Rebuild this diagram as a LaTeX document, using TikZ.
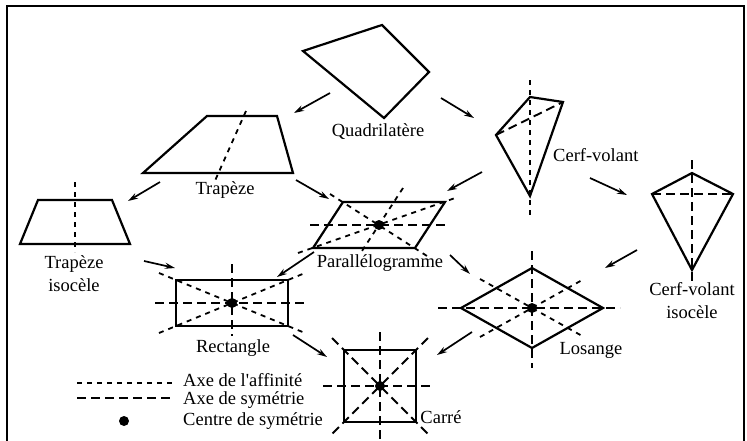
\documentclass[tikz,border=0pt]{standalone}
\usepackage{fontspec}
\setmainfont{Liberation Serif}
\usetikzlibrary{arrows.meta}
\tikzset{
    forme/.style={line width=2.2pt, line join=miter},
    affin/.style={line width=1.8pt, dash pattern=on 5pt off 5pt},
    symet/.style={line width=1.9pt, dash pattern=on 9pt off 5pt},
    fleche/.style={line width=1.7pt, -{Stealth[length=10pt,width=6pt]}},
    centre/.style={circle, fill, inner sep=0pt, minimum size=10pt},
    etiq/.style={font=\fontsize{18.5}{23}\selectfont, inner sep=0pt, align=center},
}
\begin{document}
\begin{tikzpicture}[x=1pt,y=-1pt]
    \useasboundingbox (0,0) rectangle (747,440);
    \draw [line width=2.2pt] (7,450) -- (7,6) -- (744,6) -- (744,450);

    % quadrilatere
    \draw [forme] (303,51) -- (382,25) -- (429,72) -- (384,118) -- cycle;
    \node [etiq] (quadri) at (378,132) {Quadrilatère};

    % trapeze
    \draw [forme] (143,173) -- (207,116) -- (277,116) -- (293,173) -- cycle;
    \draw [affin] (246,111) -- (214,183);
    \node [etiq] (trap) at (225,190) {Trapèze};

    % trapeze isocele
    \draw [forme] (20,244) -- (38,200) -- (112,200) -- (130,244) -- cycle;
    \draw [affin] (75,182) -- (75,252);
    \node [etiq] (trapiso) at (74,274) {Trapèze\\isocèle};

    % cerf-volant
    \draw [forme] (530,97) -- (563,102) -- (530,196) -- (496,135) -- cycle;
    \draw [affin] (530,80) -- (530,215);
    \draw [symet] (496,135) -- (563,102);
    \node [etiq, anchor=west] (cerf) at (553,155) {Cerf-volant};

    % cerf-volant isocele
    \draw [forme] (692,173) -- (733,194) -- (692,270) -- (652,194) -- cycle;
    \draw [symet] (692,160) -- (692,282);
    \draw [symet] (652,194) -- (733,194);
    \node [etiq] (cerfiso) at (692,301) {Cerf-volant\\isocèle};

    % parallelogramme
    \draw [forme] (313,248) -- (343,202) -- (445,202) -- (415,248) -- cycle;
    \draw [symet] (310,225) -- (449,225);
    \draw [affin] (330,194) -- (427,256);
    \draw [affin] (298,253) -- (458,197);
    \draw [affin] (403,188) -- (360,254);
    \node [centre] (cpar) at (379,225) {};
    \node [etiq] (para) at (380,263) {Parallélogramme};

    % rectangle
    \draw [forme] (176,280) rectangle (288,326);
    \draw [symet] (155,303) -- (306,303);
    \draw [symet] (232,264) -- (232,336);
    \draw [affin] (159,273) -- (305,333);
    \draw [affin] (159,333) -- (305,273);
    \node [centre] (crect) at (232,303) {};
    \node [etiq] (rect) at (233,348) {Rectangle};

    % losange
    \draw [forme] (461,308) -- (532,268) -- (603,308) -- (532,348) -- cycle;
    \draw [symet] (438,308) -- (620,308);
    \draw [symet] (532,251) -- (532,368);
    \draw [affin] (480,279) -- (584,337);
    \draw [affin] (480,337) -- (584,279);
    \node [centre] (closa) at (532,308) {};
    \node [etiq] (losa) at (591,350) {Losange};

    % carre
    \draw [forme] (344,350) rectangle (416,422);
    \draw [symet] (323,386) -- (432,386);
    \draw [symet] (380,332) -- (380,445);
    \draw [symet] (332,338) -- (428,434);
    \draw [symet] (428,338) -- (332,434);
    \node [centre] (ccar) at (380,386) {};
    \node [etiq] (car) at (441,417) {Carré};

    % fleches
    \path (330,93) coordinate (f1a) (294,113) coordinate (f1b)
          (441,98) coordinate (f2a) (474,118) coordinate (f2b)
          (160,182) coordinate (f3a) (128,201) coordinate (f3b)
          (296,180) coordinate (f4a) (329,199) coordinate (f4b)
          (482,172) coordinate (f5a) (447,191) coordinate (f5b)
          (590,178) coordinate (f6a) (627,195) coordinate (f6b)
          (144,261) coordinate (f7a) (175,268) coordinate (f7b)
          (314,252) coordinate (f8a) (277,277) coordinate (f8b)
          (450,255) coordinate (f9a) (470,274) coordinate (f9b)
          (637,250) coordinate (f10a) (605,268) coordinate (f10b)
          (293,335) coordinate (f11a) (327,357) coordinate (f11b)
          (472,332) coordinate (f12a) (437,355) coordinate (f12b);
    \foreach \i in {1,...,12}
        \draw [fleche] (f\i a) -- (f\i b);

    % legende
    \draw [affin] (77,383) -- (173,383);
    \draw [symet] (77,398) -- (173,398);
    \node [centre] (cleg) at (124,421) {};
    \node [etiq, anchor=base west] (leg1) at (183,386) {Axe de l\textquotesingle affinité};
    \node [etiq, anchor=base west] (leg2) at (183,404) {Axe de symétrie};
    \node [etiq, anchor=west] (leg3) at (183,421) {Centre de symétrie};
\end{tikzpicture}
\end{document}
